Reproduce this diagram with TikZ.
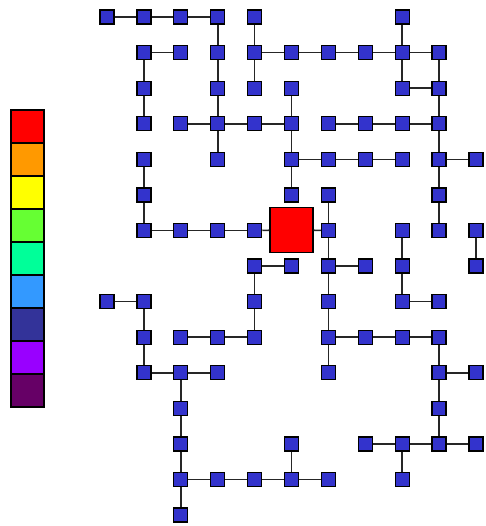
\documentclass[tikz,border=0pt]{standalone}
\usepackage{tikz}
\usetikzlibrary{positioning}

\definecolor{cellblue}{HTML}{3333CC}
\definecolor{hubred}{HTML}{FF0000}
\definecolor{lvA}{HTML}{FF0000}
\definecolor{lvB}{HTML}{FF9900}
\definecolor{lvC}{HTML}{FFFF00}
\definecolor{lvD}{HTML}{66FF33}
\definecolor{lvE}{HTML}{00FF99}
\definecolor{lvF}{HTML}{3399FF}
\definecolor{lvG}{HTML}{333399}
\definecolor{lvH}{HTML}{9900FF}
\definecolor{lvI}{HTML}{660066}

\begin{document}
\begin{tikzpicture}[
    x=1pt, y=-1pt,
    cell/.style={rectangle, draw=black, line width=1.3pt, fill=cellblue, minimum size=14pt, inner sep=0pt},
    hub/.style={rectangle, draw=black, line width=1.3pt, fill=hubred, minimum width=43pt, minimum height=45pt, inner sep=0pt},
    level/.style={rectangle, draw=black, line width=1.3pt, minimum width=33pt, minimum height=33pt, inner sep=0pt, outer sep=0pt},
    link/.style={draw=black!85, line width=1.6pt}
]
\useasboundingbox (0,0) rectangle (485,526);

% --- Grid cells (column/row) ---
\foreach \c/\r in {0/0,1/0,2/0,3/0,4/0,8/0,
                   1/1,2/1,3/1,4/1,5/1,6/1,7/1,8/1,9/1,
                   1/2,3/2,4/2,5/2,8/2,9/2,
                   1/3,2/3,3/3,4/3,5/3,6/3,7/3,8/3,9/3,
                   1/4,3/4,5/4,6/4,7/4,8/4,9/4,10/4,
                   1/5,5/5,6/5,9/5,
                   1/6,2/6,3/6,4/6,6/6,8/6,9/6,10/6,
                   4/7,5/7,6/7,7/7,8/7,10/7,
                   0/8,1/8,4/8,6/8,8/8,9/8,
                   1/9,2/9,3/9,4/9,6/9,7/9,8/9,9/9,
                   1/10,2/10,3/10,6/10,9/10,10/10,
                   2/11,9/11,
                   2/12,5/12,7/12,8/12,9/12,10/12,
                   2/13,3/13,4/13,5/13,6/13,8/13,
                   2/14}
  \node[cell] (n-\c-\r) at ({107+36.9*\c}, {17+35.58*\r}) {};

% --- Central cell ---
\node[hub] (hub) at (291.5,230) {};

% --- Horizontal links ---
\foreach \c/\r [evaluate=\c as \d using int(\c+1)] in
    {0/0,1/0,2/0, 1/1,4/1,5/1,6/1,7/1,8/1, 8/2,
     2/3,3/3,4/3,6/3,7/3,8/3, 5/4,6/4,7/4,9/4,
     1/6,2/6,3/6, 4/7,6/7, 0/8,8/8,
     2/9,3/9,6/9,7/9,8/9, 1/10,2/10,9/10,
     7/12,8/12,9/12, 2/13,3/13,4/13,5/13}
  \draw[link] (n-\c-\r) -- (n-\d-\r);

% --- Vertical links ---
\foreach \c/\r [evaluate=\r as \s using int(\r+1)] in
    {3/0,4/0,8/0, 1/1,3/1,4/1,8/1,9/1, 1/2,3/2,5/2,9/2,
     3/3,5/3,9/3, 1/4,5/4,9/4, 1/5,6/5,9/5, 6/6,8/6,10/6,
     4/7,6/7,8/7, 1/8,4/8,6/8, 1/9,6/9,9/9, 2/10,9/10,
     2/11,9/11, 2/12,5/12,8/12, 2/13}
  \draw[link] (n-\c-\r) -- (n-\c-\s);

\draw[link] (n-4-6) -- (hub);
\draw[link] (hub) -- (n-6-6);

% --- Colour scale ---
\node[level, fill=lvA] (bar1) at (27.5,126.5) {};
\node[level, fill=lvB, below=0pt of bar1] (bar2) {};
\node[level, fill=lvC, below=0pt of bar2] (bar3) {};
\node[level, fill=lvD, below=0pt of bar3] (bar4) {};
\node[level, fill=lvE, below=0pt of bar4] (bar5) {};
\node[level, fill=lvF, below=0pt of bar5] (bar6) {};
\node[level, fill=lvG, below=0pt of bar6] (bar7) {};
\node[level, fill=lvH, below=0pt of bar7] (bar8) {};
\node[level, fill=lvI, below=0pt of bar8] (bar9) {};
\end{tikzpicture}
\end{document}
